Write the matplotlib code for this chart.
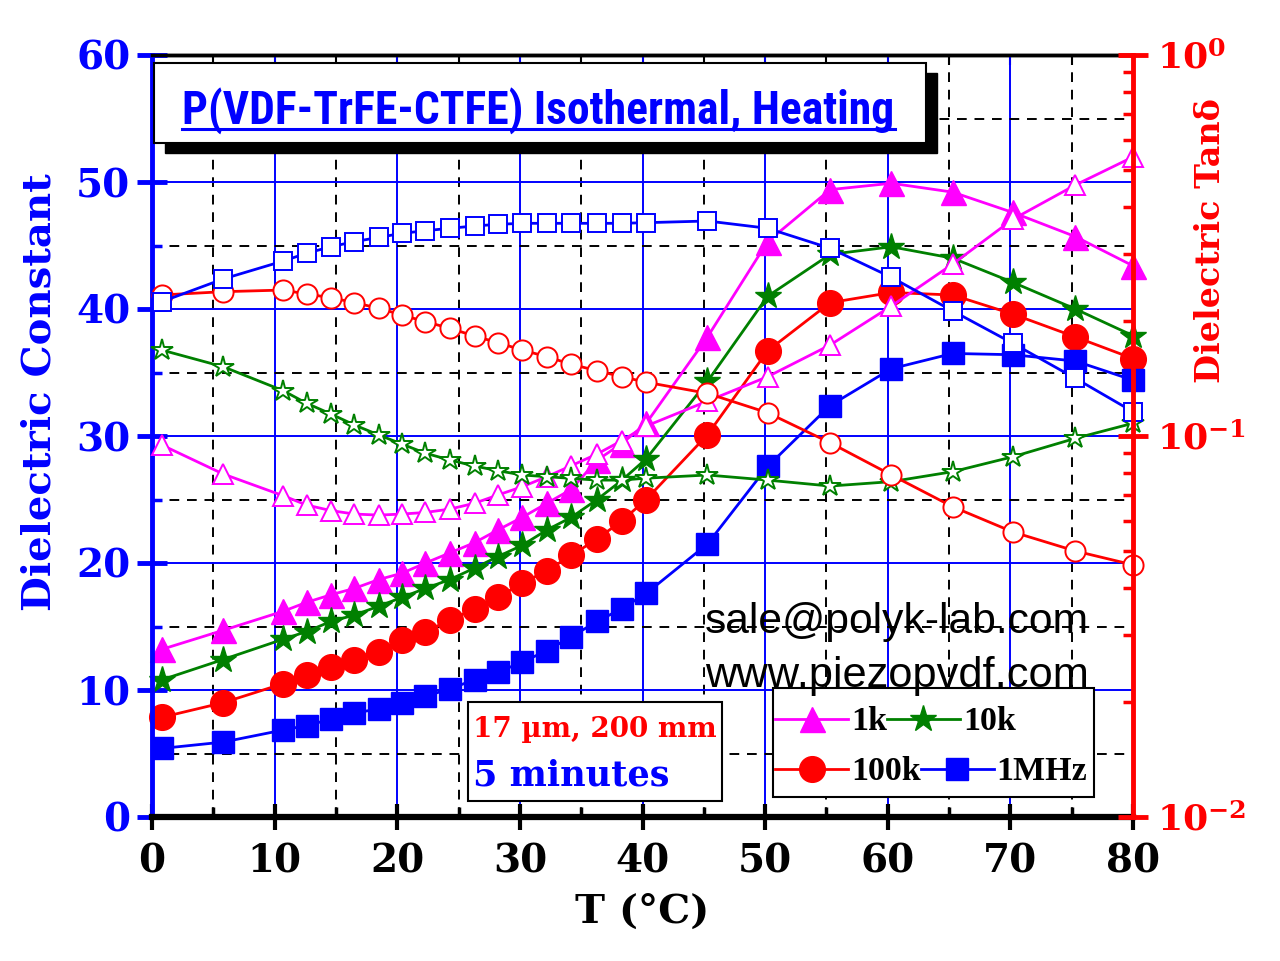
import numpy as np
import matplotlib
matplotlib.use("Agg")
import matplotlib.pyplot as plt
from matplotlib import font_manager
from matplotlib.patches import Rectangle
from matplotlib.lines import Line2D
from matplotlib.ticker import MultipleLocator, FixedLocator, FixedFormatter, LogLocator, NullFormatter

plt.rcParams['mathtext.fontset'] = 'dejavuserif'

W, H = 1280, 961

# temperature points (deg C)
T = [0.8, 5.8, 10.7, 12.6, 14.6, 16.5, 18.5, 20.4, 22.3, 24.3, 26.3, 28.2, 30.2,
     32.2, 34.2, 36.3, 38.3, 40.3, 45.3, 50.2, 55.3, 60.3, 65.3, 70.2, 75.3, 80.0]

# dielectric constant (left axis)
eps_1k = [13.2, 14.7, 16.2, 16.9, 17.5, 18.0, 18.7, 19.2, 20.0, 20.8, 21.6, 22.6, 23.6,
          24.7, 25.8, 28.1, 29.4, 31.0, 37.8, 45.3, 49.4, 49.9, 49.2, 47.6, 45.7, 43.4]
eps_10k = [10.8, 12.4, 14.0, 14.6, 15.4, 15.9, 16.6, 17.3, 18.0, 18.7, 19.6, 20.5, 21.4,
           22.6, 23.6, 25.0, 26.5, 28.2, 34.3, 41.0, 44.3, 44.9, 44.0, 42.1, 40.0, 37.9]
eps_100k = [7.85, 9.0, 10.5, 11.2, 11.8, 12.4, 13.0, 13.9, 14.6, 15.5, 16.4, 17.3, 18.4,
            19.4, 20.6, 21.9, 23.3, 25.0, 30.1, 36.7, 40.5, 41.3, 41.1, 39.6, 37.8, 36.1]
eps_1M = [5.4, 5.9, 6.85, 7.2, 7.7, 8.2, 8.5, 9.0, 9.5, 10.1, 10.8, 11.4, 12.2,
          13.1, 14.2, 15.4, 16.4, 17.6, 21.5, 27.6, 32.4, 35.3, 36.5, 36.4, 35.9, 34.4]

# dielectric loss tan delta (right axis, log)
tan_1k = [0.0947, 0.0795, 0.0697, 0.0659, 0.0637, 0.0624, 0.0620, 0.0624, 0.0630, 0.0643,
          0.0666, 0.0700, 0.0736, 0.0782, 0.0836, 0.0897, 0.0972, 0.1062, 0.1235, 0.1431,
          0.1733, 0.2194, 0.2828, 0.3705, 0.4558, 0.540]
tan_10k = [0.1681, 0.1520, 0.1315, 0.1219, 0.1142, 0.1069, 0.1006, 0.0952, 0.0901, 0.0865,
           0.0834, 0.0811, 0.0790, 0.0782, 0.0774, 0.0766, 0.0766, 0.0775, 0.0790, 0.0766,
           0.0739, 0.0759, 0.0806, 0.0882, 0.0986, 0.108]
tan_100k = [0.2345, 0.2392, 0.2416, 0.2359, 0.2307, 0.2239, 0.2164, 0.2077, 0.1995, 0.1917,
            0.1830, 0.1758, 0.1681, 0.1615, 0.1542, 0.1484, 0.1431, 0.1384, 0.1294, 0.1151,
            0.0960, 0.0790, 0.0652, 0.0560, 0.0499, 0.0459]
tan_1M = [0.2252, 0.2583, 0.2879, 0.3017, 0.3140, 0.3236, 0.3322, 0.3404, 0.3458, 0.3509,
          0.3558, 0.3594, 0.3616, 0.3616, 0.3616, 0.3616, 0.3616, 0.3630, 0.3667, 0.3509,
          0.3110, 0.2609, 0.2129, 0.1751, 0.1417, 0.1158]

labels = ["1k", "10k", "100k", "1MHz"]
colors = ["#ff00ff", "#008000", "#ff0000", "#0000ff"]
markers = ["^", "*", "o", "s"]
fill_sizes = [18, 20, 18.5, 16.5]
open_sizes = [14.5, 16, 14.5, 13]

SERIF = "DejaVu Serif"

# pick a narrow bold sans for the title if one is installed
fonts = font_manager.fontManager.ttflist
title_font = {"family": "Liberation Sans", "stretch": "normal"}
for fam, st in [("Liberation Sans Narrow", None), ("Roboto Condensed", None),
                ("Open Sans Condensed", None), ("DejaVu Sans", "condensed"),
                ("Noto Sans", "condensed"), ("Open Sans", "condensed")]:
    ok = [f for f in fonts if f.name == fam and (st is None or f.stretch == st)]
    if ok:
        title_font = {"family": fam, "stretch": st or "normal"}
        break

fig = plt.figure(figsize=(W / 100, H / 100), dpi=100)
ax = fig.add_axes([152 / W, 1 - 817 / H, (1133 - 152) / W, (817 - 55) / H])
ax2 = ax.twinx()

ax.set_xlim(0, 80)
ax.set_ylim(0, 60)
ax2.set_yscale("log")
ax2.set_ylim(1e-2, 1e0)

ax.xaxis.set_major_locator(MultipleLocator(10))
ax.xaxis.set_minor_locator(MultipleLocator(5))
ax.yaxis.set_major_locator(MultipleLocator(10))
ax.yaxis.set_minor_locator(MultipleLocator(5))
ax.grid(which="major", color="#0000ff", lw=1.4, ls="-")
ax.grid(which="minor", color="black", lw=1.4, ls=(0, (5, 4)))

eps_all = [eps_1k, eps_10k, eps_100k, eps_1M]
tan_all = [tan_1k, tan_10k, tan_100k, tan_1M]

handles = []
for eps, c, m, s in zip(eps_all, colors, markers, fill_sizes):
    h, = ax.plot(T, eps, color=c, lw=2.0, marker=m, ms=s, mfc=c, mec=c, mew=1, clip_on=False)
    handles.append(h)

for tn, c, m, s in zip(tan_all, colors, markers, open_sizes):
    ax2.plot(T, tn, color=c, lw=2.0, marker=m, ms=s, mfc="white", mec=c, mew=1.4, clip_on=False)

# spines
ax.spines["left"].set_color("#0000ff")
ax.spines["left"].set_linewidth(3.5)
ax.spines["bottom"].set_color("black")
ax.spines["bottom"].set_linewidth(4.5)
ax.spines["top"].set_color("black")
ax.spines["top"].set_linewidth(2.5)
ax.spines["right"].set_visible(False)
for sp in ["left", "bottom", "top"]:
    ax2.spines[sp].set_visible(False)
ax2.spines["right"].set_color("#ff0000")
ax2.spines["right"].set_linewidth(3.5)

# ticks
ax.tick_params(axis="x", which="major", direction="inout", length=19, width=3, colors="black",
               pad=9, labelsize=28)
ax.tick_params(axis="x", which="minor", direction="in", length=7, width=2.5, colors="black")
ax.tick_params(axis="y", which="major", direction="inout", length=21, width=3.5, colors="#0000ff",
               pad=5, labelsize=28)
ax.tick_params(axis="y", which="minor", direction="in", length=7, width=2.5, colors="#0000ff")
for lab in ax.get_xticklabels() + ax.get_yticklabels():
    lab.set_family(SERIF)
    lab.set_fontweight("bold")

top = ax.secondary_xaxis("top")
top.xaxis.set_major_locator(MultipleLocator(5))
top.tick_params(direction="in", length=7, width=1.5, colors="black", labeltop=False)
top.spines["top"].set_linewidth(2.5)

ax2.yaxis.set_major_locator(FixedLocator([1e-2, 1e-1, 1e0]))
ax2.yaxis.set_major_formatter(FixedFormatter([r"$\mathbf{10^{-2}}$", r"$\mathbf{10^{-1}}$",
                                              r"$\mathbf{10^{0}}$"]))
ax2.yaxis.set_minor_locator(LogLocator(base=10, subs=np.arange(2, 10)))
ax2.yaxis.set_minor_formatter(NullFormatter())
ax2.tick_params(axis="y", which="major", direction="inout", length=21, width=3.5, colors="#ff0000",
                pad=7, labelsize=26)
ax2.tick_params(axis="y", which="minor", direction="in", length=7, width=2.5, colors="#ff0000")

# axis labels
fig.text(40 / W, 1 - 392 / H, "Dielectric Constant", rotation=90, ha="center", va="center",
         color="#0000ff", fontsize=29, fontweight="bold", family=SERIF)
fig.text(1210 / W, 1 - 241 / H, "Dielectric Tan\u03b4", rotation=90, ha="center", va="center",
         color="#ff0000", fontsize=24, fontweight="bold", family=SERIF)
fig.text(642 / W, 1 - 912 / H, "T (\u00b0C)", ha="center", va="center",
         color="black", fontsize=29, fontweight="bold", family=SERIF)


def px_rect(x0, y0, x1, y1, **kw):
    r = Rectangle((x0 / W, 1 - y1 / H), (x1 - x0) / W, (y1 - y0) / H,
                  transform=fig.transFigure, **kw)
    fig.add_artist(r)
    return r


# title box with shadow
px_rect(165, 73, 937, 153, facecolor="black", edgecolor="black", zorder=5)
px_rect(154, 63, 926, 143, facecolor="white", edgecolor="black", lw=1.5, zorder=6)
title = fig.text(182 / W, 1 - 124 / H, "P(VDF-TrFE-CTFE) Isothermal, Heating", ha="left",
                 va="baseline", color="#0000ff", fontsize=33, fontweight="bold",
                 family=title_font["family"], fontstretch=title_font["stretch"], zorder=7)
fig.add_artist(Line2D([182 / W, 895 / W], [1 - 129 / H, 1 - 129 / H], transform=fig.transFigure,
                      color="#0000ff", lw=2.2, zorder=7))

# contact text
mail = fig.text(705 / W, 1 - 633 / H, "sale@polyk-lab.com", ha="left", va="baseline",
                color="black", fontsize=28, family="Liberation Sans", zorder=7)
web = fig.text(705 / W, 1 - 687 / H, "www.piezopvdf.com", ha="left", va="baseline",
               color="black", fontsize=28, family="Liberation Sans", zorder=7)

# sample info box
px_rect(468, 702, 722, 801, facecolor="white", edgecolor="black", lw=1.5, zorder=6)
info1 = fig.text(473 / W, 1 - 737 / H, "17 \u00b5m, 200 mm", ha="left", va="baseline",
                 color="#ff0000", fontsize=19, fontweight="bold", family=SERIF, zorder=7)
info2 = fig.text(473 / W, 1 - 785 / H, "5 minutes", ha="left", va="baseline", color="#0000ff",
                 fontsize=23, fontweight="bold", family=SERIF, zorder=7)

# scale the free texts so their widths match the original
renderer = fig.canvas.get_renderer()
for txt, width in [(title, 713), (mail, 384), (web, 383), (info1, 244), (info2, 197)]:
    w = txt.get_window_extent(renderer).width
    txt.set_fontsize(txt.get_fontsize() * width / w)

# legend: framed box with two rows
px_rect(773, 688, 1094, 797, facecolor="white", edgecolor="black", lw=1.5, zorder=6)
for row, (i, j) in zip([722, 772], [(0, 1), (2, 3)]):
    leg = fig.legend([handles[i], handles[j]], [labels[i], labels[j]], ncol=2, frameon=False,
                     loc="center left", bbox_to_anchor=(775 / W, 1 - row / H),
                     bbox_transform=fig.transFigure, borderpad=0, borderaxespad=0,
                     handlelength=2.15, handletextpad=0.08, columnspacing=0.0,
                     prop={"family": "Liberation Serif", "weight": "bold", "size": 24.5})
    leg.set_zorder(7)

fig.savefig("out.png", dpi=100)
